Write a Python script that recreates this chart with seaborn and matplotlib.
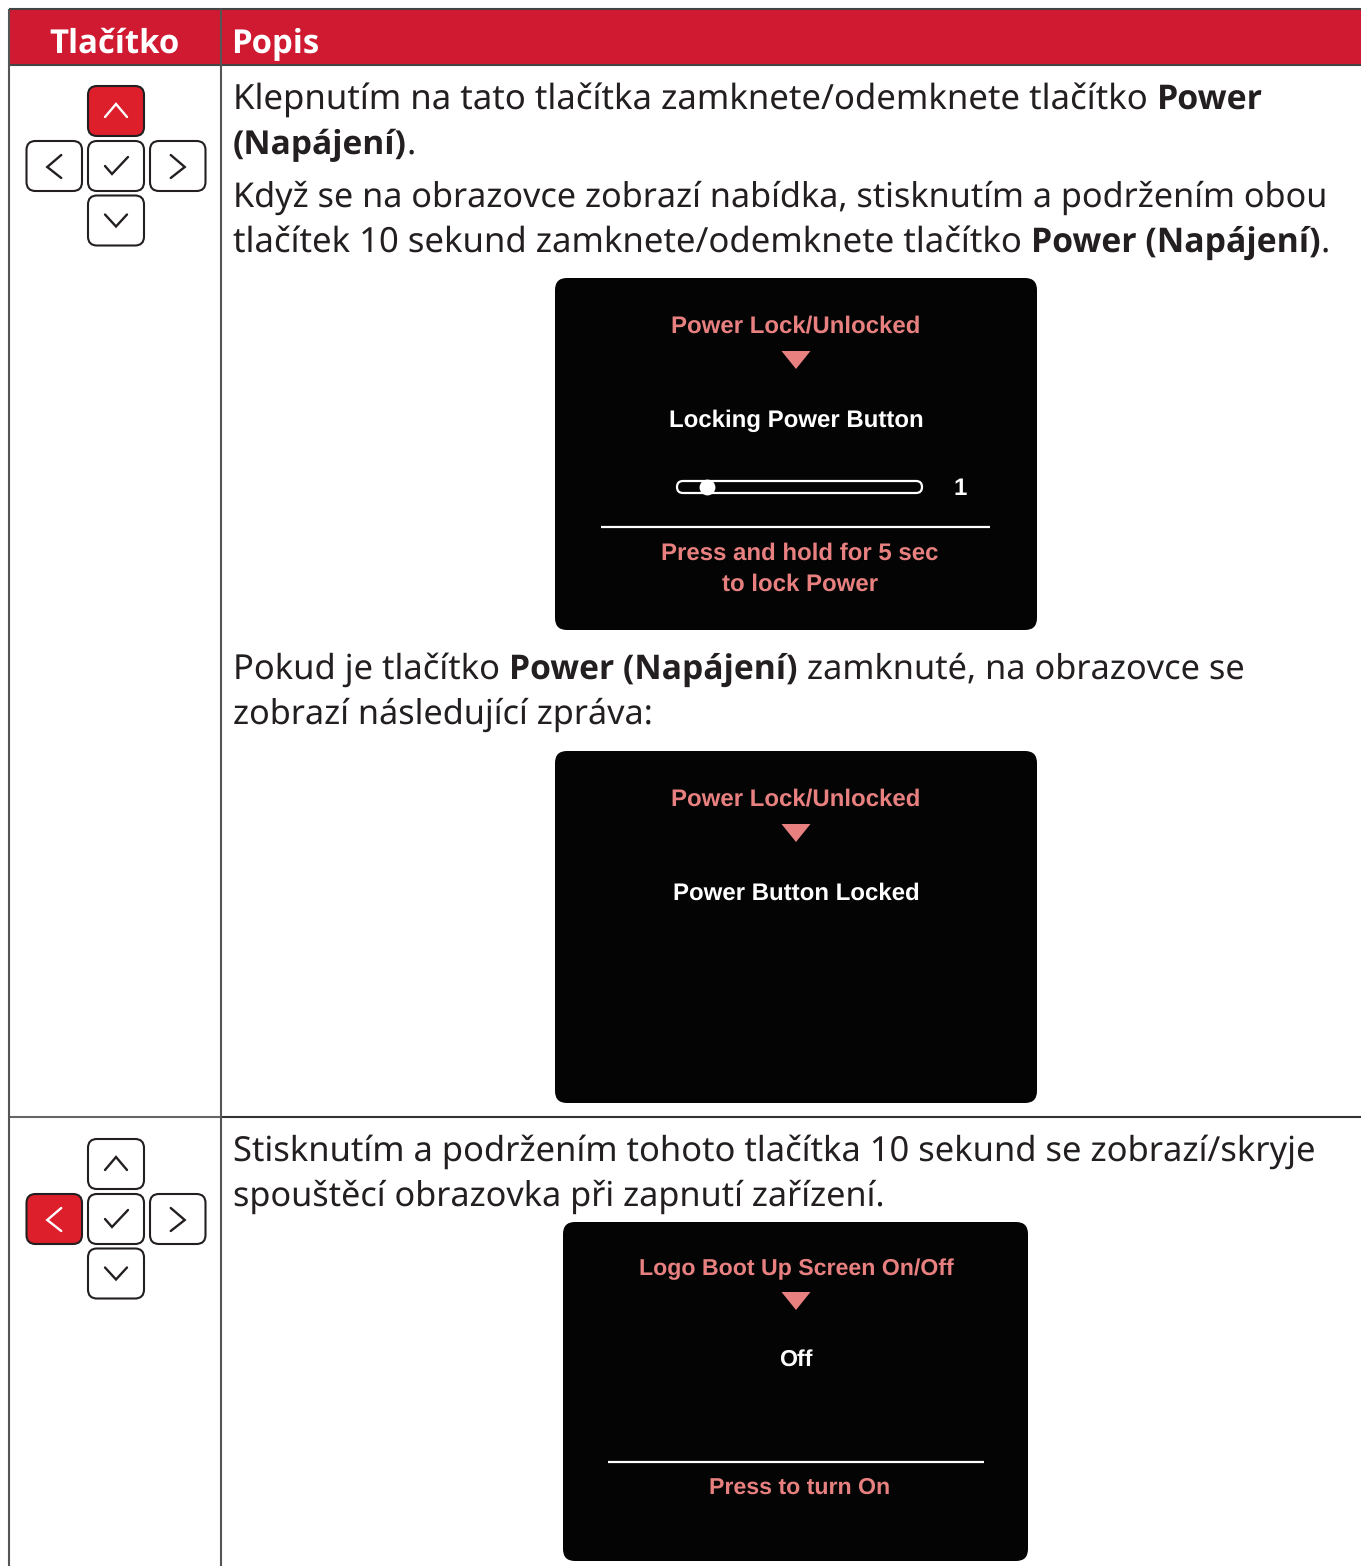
import matplotlib
matplotlib.use('Agg')
import matplotlib.pyplot as plt
from matplotlib.patches import FancyBboxPatch, Rectangle, Polygon
import seaborn as sns

# table text, list of runs per line: (text, bold)
header_labels = ['Tlačítko', 'Popis']
row1_top = [
    [('Klepnutím na tato tlačítka zamknete/odemknete tlačítko ', False), ('Power', True)],
    [('(Napájení)', True), ('.', False)],
    [('Když se na obrazovce zobrazí nabídka, stisknutím a podržením obou', False)],
    [('tlačítek 10 sekund zamknete/odemknete tlačítko ', False), ('Power (Napájení)', True), ('.', False)],
]
row1_mid = [
    [('Pokud je tlačítko ', False), ('Power (Napájení)', True), (' zamknuté, na obrazovce se', False)],
    [('zobrazí následující zpráva:', False)],
]
row2_top = [
    [('Stisknutím a podržením tohoto tlačítka 10 sekund se zobrazí/skryje', False)],
    [('spouštěcí obrazovka při zapnutí zařízení.', False)],
]
osd1_text = ['Power Lock/Unlocked', 'Locking Power Button', '1', 'Press and hold for 5 sec', 'to lock Power']
osd2_text = ['Power Lock/Unlocked', 'Power Button Locked']
osd3_text = ['Logo Boot Up Screen On/Off', 'Off', 'Press to turn On']

# where each run ends in the reference, used to fit the font size
row1_top_ends = [[1157, 1263], [407, None], [1328], [1031, 1321, None]]
row1_mid_ends = [[509, 798, 1245], [653]]
row2_top_ends = [[1316], [885]]

RED_HEAD = '#cf1a31'
RED_BTN = '#dc1f2b'
SALMON = '#e88080'
INK = '#231f20'
PANEL = '#040404'
BODY = ['Noto Sans', 'DejaVu Sans']
BODY_BOLD = ['Open Sans', 'DejaVu Sans']
OSD = ['Liberation Sans', 'DejaVu Sans']

sns.set_theme(style='white')
plt.rcParams['font.family'] = BODY
plt.rcParams['text.hinting'] = 'none'

fig = plt.figure(figsize=(13.61, 15.66), dpi=100)
ax = fig.add_axes([0, 0, 1, 1])
ax.set_xlim(0, 1361)
ax.set_ylim(1566, 0)
ax.axis('off')
sns.despine(ax=ax, left=True, bottom=True)


def run_width(s, size, bold):
    # measure with guards so leading/trailing spaces count
    r = fig.canvas.get_renderer()
    kw = dict(fontsize=size, fontweight='bold' if bold else 'normal', family=BODY_BOLD if bold else BODY)
    a = ax.text(0, 0, 'x' + s + 'x', **kw)
    b = ax.text(0, 0, 'xx', **kw)
    w = a.get_window_extent(r).width - b.get_window_extent(r).width
    a.remove()
    b.remove()
    return w


def draw_lines(lines, ends, x, baselines, size=25):
    for runs, run_ends, y in zip(lines, ends, baselines):
        cx = x
        for (s, bold), end in zip(runs, run_ends):
            fs = size
            if end is not None:
                fs = size * (end - cx) / run_width(s, size, bold)
            ax.text(cx, y, s, fontsize=fs, fontweight='bold' if bold else 'normal', color=INK,
                    va='baseline', ha='left', family=BODY_BOLD if bold else BODY)
            cx = end if end is not None else cx + run_width(s, fs, bold)


def button(x, y, w, h, active, kind):
    fc = RED_BTN if active else 'white'
    ax.add_patch(FancyBboxPatch((x + 7, y + 7), w - 14, h - 14, boxstyle='round,pad=7,rounding_size=9',
                                fc=fc, ec=INK, lw=1.5, zorder=3))
    cx, cy = x + w / 2, y + h / 2
    shapes = {
        'up': [(-11, 6), (0, -7), (11, 6)],
        'down': [(-11, -6), (0, 6), (11, -6)],
        'left': [(7, -11), (-7, 1), (7, 12)],
        'right': [(-7, -11), (7, 1), (-7, 12)],
        'check': [(-11, 0), (-4, 8), (12, -9)],
    }
    pts = shapes[kind]
    ax.plot([cx + p[0] for p in pts], [cy + p[1] for p in pts], color='white' if active else INK,
            lw=1.7, zorder=4, solid_capstyle='round', solid_joinstyle='miter')


def pad(top, active):
    button(88, top, 56, 50, active == 'up', 'up')
    button(26.5, top + 55, 55.5, 50, active == 'left', 'left')
    button(88, top + 55, 56, 50, False, 'check')
    button(150, top + 55, 55.5, 50, False, 'right')
    button(88, top + 109.5, 56, 50, False, 'down')


def panel(x0, y0, x1, y1):
    ax.add_patch(FancyBboxPatch((x0 + 11, y0 + 11), x1 - x0 - 22, y1 - y0 - 22,
                                boxstyle='round,pad=11,rounding_size=12', fc=PANEL, ec='none', zorder=2))


def osd(x, y, s, color, size=17.3):
    ax.text(x, y, s, fontsize=size, fontweight='bold', color=color, ha='center', va='baseline', family=OSD, zorder=5)


def arrow(cx, top):
    ax.add_patch(Polygon([(cx - 14.5, top), (cx + 14.5, top), (cx, top + 18)], fc=SALMON, ec='none', zorder=5))


# header band and grid
ax.add_patch(Rectangle((9, 9), 1352, 56, fc=RED_HEAD, ec='none', zorder=1))
ax.hlines(9, 9, 1361, color='#444444', lw=1.5, zorder=2)
ax.hlines(65, 9, 1361, color='#444444', lw=1.5, zorder=2)
ax.hlines(1117, 9, 221, color='#666666', lw=1.5, zorder=2)
ax.hlines(1117, 221, 1361, color='#333333', lw=1.5, zorder=2)
ax.vlines(9.5, 9, 1566, color='#555555', lw=1.5, zorder=2)
ax.vlines(221, 9, 1566, color='#555555', lw=1.5, zorder=2)

ax.text(114.5, 53, header_labels[0], fontsize=23.7, fontweight='bold', color='white', ha='center', va='baseline', family=BODY_BOLD)
ax.text(231.5, 53, header_labels[1], fontsize=23.7, fontweight='bold', color='white', ha='left', va='baseline', family=BODY_BOLD)

draw_lines(row1_top, row1_top_ends, 233, [109, 154, 207, 252])
draw_lines(row1_mid, row1_mid_ends, 233, [679, 724])
draw_lines(row2_top, row2_top_ends, 233, [1161, 1206])

pad(86, 'up')
pad(1139, 'left')

# first screen
panel(555, 278, 1037, 630)
osd(796, 333, osd1_text[0], SALMON)
arrow(796, 351)
osd(796, 427, osd1_text[1], 'white')
ax.add_patch(FancyBboxPatch((677, 481), 245, 12, boxstyle='round,pad=0,rounding_size=6', fc=PANEL, ec='white', lw=1.6, zorder=5))
ax.scatter([707], [487], s=130, color='white', linewidths=0, zorder=6)
osd(960, 495, osd1_text[2], 'white')
ax.hlines(527, 601, 990, color='white', lw=1.6, zorder=5)
osd(800, 560, osd1_text[3], SALMON)
osd(800, 591, osd1_text[4], SALMON)

# second screen
panel(555, 751, 1037, 1103)
osd(796, 806, osd2_text[0], SALMON)
arrow(796, 824)
osd(796, 900, osd2_text[1], 'white')

# third screen
panel(563, 1222, 1028, 1561)
osd(796, 1275, osd3_text[0], SALMON, 16.7)
arrow(796, 1292)
osd(796, 1366, osd3_text[1], 'white', 16.7)
ax.hlines(1462, 608, 984, color='white', lw=1.6, zorder=5)
osd(800, 1494, osd3_text[2], SALMON, 16.7)

fig.savefig('out.png', dpi=100, facecolor='white')
plt.close(fig)
